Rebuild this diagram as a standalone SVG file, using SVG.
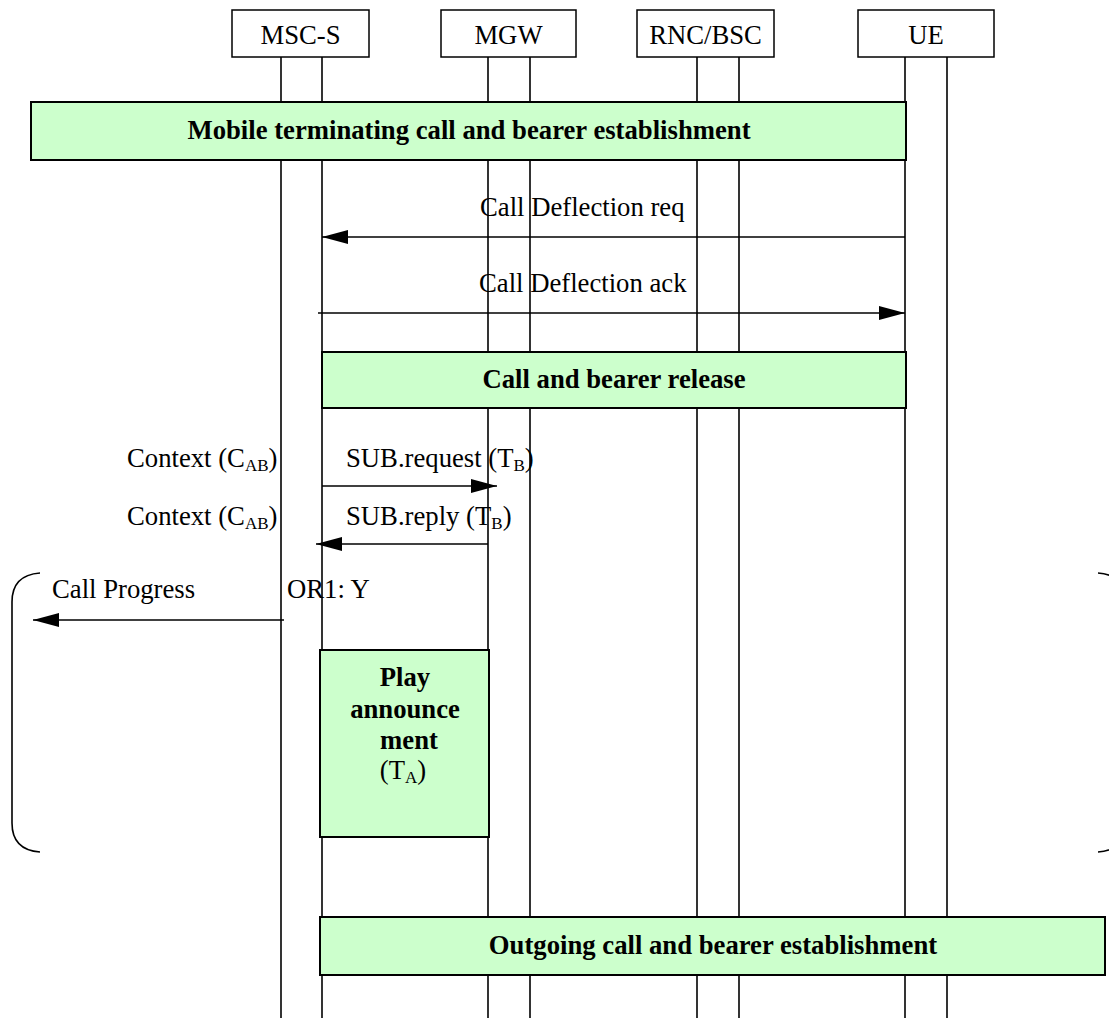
<svg xmlns="http://www.w3.org/2000/svg" width="1109" height="1018" viewBox="0 0 1109 1018">
<style>
text{font-family:"Liberation Serif","Times New Roman",serif;font-size:26.7px;fill:#000}
.b{font-weight:bold}
.m{text-anchor:middle}
.ent{fill:#fff;stroke:#000;stroke-width:1.5}
.life{stroke:#000;stroke-width:1.6;fill:none}
.proc{fill:#CCFFCC;stroke:#000;stroke-width:2}
.msg{stroke:#000;stroke-width:1.6;fill:none}
.sub{font-size:17px}
</style>
<defs>
<marker id="ah" markerWidth="26" markerHeight="14" refX="26" refY="7" orient="auto" markerUnits="userSpaceOnUse">
<path d="M0,0 L26,7 L0,14 z" fill="#000"/>
</marker>
</defs>
<rect width="1109" height="1018" fill="#fff"/>
<g id="lifelines">
<line class="life" x1="281" y1="57" x2="281" y2="1018"/>
<line class="life" x1="322" y1="57" x2="322" y2="1018"/>
<line class="life" x1="488" y1="57" x2="488" y2="1018"/>
<line class="life" x1="530" y1="57" x2="530" y2="1018"/>
<line class="life" x1="697" y1="57" x2="697" y2="1018"/>
<line class="life" x1="739" y1="57" x2="739" y2="1018"/>
<line class="life" x1="905" y1="57" x2="905" y2="1018"/>
<line class="life" x1="947" y1="57" x2="947" y2="1018"/>
</g>
<g id="msc-s"><rect class="ent" x="232" y="10" width="137" height="47"/><text class="m" x="300.5" y="44">MSC-S</text></g>
<g id="mgw"><rect class="ent" x="441" y="10" width="135" height="47"/><text class="m" x="508.5" y="44">MGW</text></g>
<g id="rnc-bsc"><rect class="ent" x="637" y="10" width="137" height="47"/><text class="m" x="705.5" y="44">RNC/BSC</text></g>
<g id="ue"><rect class="ent" x="858" y="10" width="136" height="47"/><text class="m" x="926" y="44">UE</text></g>
<g id="mt-call"><rect class="proc" x="31" y="102" width="875" height="58"/><text class="b m" x="469" y="139">Mobile terminating call and bearer establishment</text></g>
<g id="release"><rect class="proc" x="322" y="352" width="584" height="56"/><text class="b m" x="614" y="388">Call and bearer release</text></g>
<g id="play"><rect class="proc" x="320" y="650" width="169" height="187"/>
<text class="b m" x="405" y="686">Play</text>
<text class="b m" x="405" y="718">announce</text>
<text class="b m" x="409" y="749">ment</text>
<text class="m" x="403" y="779">(T<tspan class="sub" dy="4">A</tspan><tspan dy="-4">)</tspan></text>
</g>
<g id="outgoing"><rect class="proc" x="320" y="917" width="785" height="58"/><text class="b m" x="713" y="954">Outgoing call and bearer establishment</text></g>
<g id="connectors">
<line class="msg" x1="905" y1="237" x2="322" y2="237" marker-end="url(#ah)"/>
<line class="msg" x1="318" y1="313" x2="905" y2="313" marker-end="url(#ah)"/>
<line class="msg" x1="322" y1="486" x2="497" y2="486" marker-end="url(#ah)"/>
<line class="msg" x1="488" y1="544" x2="316" y2="544" marker-end="url(#ah)"/>
<line class="msg" x1="284" y1="620" x2="33" y2="620" marker-end="url(#ah)"/>
<path class="msg" d="M40,573 Q12,575 12,602 V823 Q12,850 40,852"/>
<path class="msg" d="M1098,573 Q1126,575 1126,602 V823 Q1126,850 1098,852"/>
</g>
<g id="labels">
<text x="480" y="216">Call Deflection req</text>
<text x="479" y="292">Call Deflection ack</text>
<text x="127" y="467">Context (C<tspan class="sub" dy="4">AB</tspan><tspan dy="-4">)</tspan></text>
<text x="346" y="467">SUB.request (T<tspan class="sub" dy="4">B</tspan><tspan dy="-4">)</tspan></text>
<text x="127" y="525">Context (C<tspan class="sub" dy="4">AB</tspan><tspan dy="-4">)</tspan></text>
<text x="346" y="525">SUB.reply (T<tspan class="sub" dy="4">B</tspan><tspan dy="-4">)</tspan></text>
<text x="52" y="598">Call Progress</text>
<text x="287" y="598">OR1: Y</text>
</g>
</svg>
